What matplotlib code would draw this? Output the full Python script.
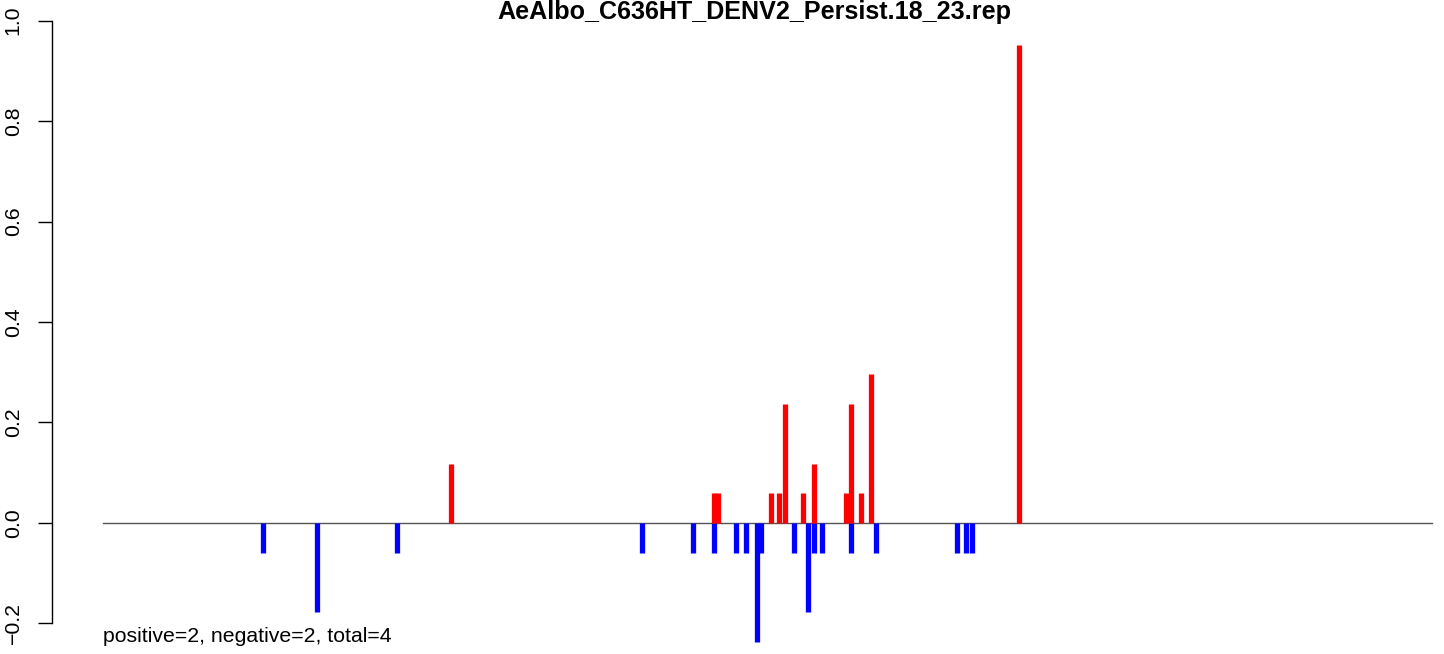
import matplotlib
matplotlib.use("Agg")
import matplotlib.pyplot as plt

plt.rcParams['font.family'] = ['Liberation Sans', 'DejaVu Sans']

title = "AeAlbo_C636HT_DENV2_Persist.18_23.rep"
note = "positive=2, negative=2, total=4"
genome_len = 10723

# positive (red) bars: position, value
pos_x = [2804, 4926, 4962, 5386, 5458, 5499, 5652, 5733, 5999, 6039, 6120, 6193, 7387]
pos_y = [0.118, 0.059, 0.059, 0.059, 0.059, 0.237, 0.059, 0.118, 0.059, 0.237, 0.059, 0.296, 0.951]

# negative (blue) bars
neg_x = [1295, 1723, 2376, 4345, 4764, 4926, 5111, 5192, 5273, 5309, 5579, 5692, 5733,
         5805, 6039, 6233, 6887, 6967, 7008]
neg_y = [-0.059, -0.178, -0.059, -0.059, -0.059, -0.059, -0.059, -0.059, -0.237, -0.059,
         -0.059, -0.178, -0.059, -0.059, -0.059, -0.059, -0.059, -0.059, -0.059]

yticks = [-0.2, 0.0, 0.2, 0.4, 0.6, 0.8, 1.0]

W, H = 1444, 654
fig = plt.figure(figsize=(W / 100, H / 100), dpi=100)
ax = fig.add_axes([52 / W, 0, 1 - 52 / W, 1])

ax.plot([1, genome_len], [0, 0], color='#555555', lw=1.0, zorder=1)
ax.vlines(neg_x, 0, neg_y, color='blue', lw=3.8, zorder=2)
ax.vlines(pos_x, 0, pos_y, color='red', lw=3.8, zorder=3)

ax.set_xlim(-411.5, 10820)
ax.set_ylim(-0.2607, 1.0408)

for s in ['top', 'right', 'bottom']:
    ax.spines[s].set_visible(False)
ax.spines['left'].set_bounds(-0.2, 1.0)
ax.spines['left'].set_linewidth(1.0)
ax.set_xticks([])
ax.set_yticks(yticks)
ax.set_yticklabels(['\u22120.2', '0.0', '0.2', '0.4', '0.6', '0.8', '1.0'],
                   rotation=90, va='center', fontsize=15.3)
ax.tick_params(axis='y', length=10, width=1.0, pad=11)
ax.patch.set_alpha(0)

fig.text(754 / W, 1 - 12 / H, title, ha='center', va='center',
         fontsize=18.1, fontweight='bold')
ax.text(1, -0.225, note, ha='left', va='center', fontsize=15.3)

fig.savefig("out.png", dpi=100)
